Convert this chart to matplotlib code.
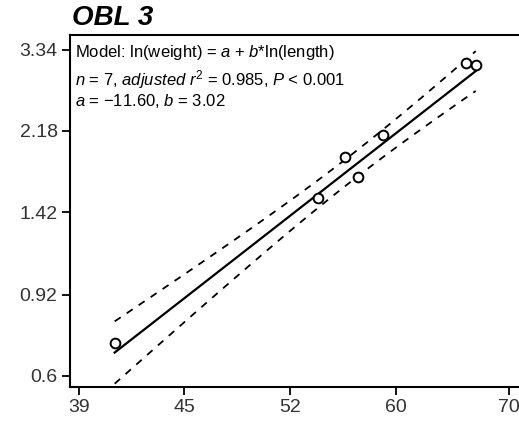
import numpy as np
import matplotlib
matplotlib.use('Agg')
import matplotlib.pyplot as plt
from matplotlib.ticker import NullLocator

plt.rcParams['font.family'] = ['Liberation Sans', 'DejaVu Sans']
plt.rcParams['mathtext.fontset'] = 'custom'
plt.rcParams['mathtext.rm'] = 'Liberation Sans'
plt.rcParams['mathtext.it'] = 'Liberation Sans:italic'
plt.rcParams['mathtext.bf'] = 'Liberation Sans:bold'

# 长度、体重观测值
length = [40.95, 53.95, 56.0, 57.0, 58.95, 66.0, 66.9]
weight = [0.714, 1.531, 1.90, 1.71, 2.13, 3.12, 3.08]

# 回归系数 ln(weight) = a + b*ln(length)
a, b = -11.60, 3.02
t_crit = 2.571  # t(0.975, df=5)

x_ticks = [39, 45, 52, 60, 70]
y_ticks = [0.6, 0.92, 1.42, 2.18, 3.34]
title = 'OBL 3'

lx = np.log(length)
ly = np.log(weight)
n = len(lx)
resid = ly - (a + b * lx)
s = np.sqrt(np.sum(resid ** 2) / (n - 2))
sxx = np.sum((lx - lx.mean()) ** 2)

xs = np.linspace(lx.min(), lx.max(), 100)
fit = a + b * xs
half = t_crit * s * np.sqrt(1 / n + (xs - lx.mean()) ** 2 / sxx)

fig = plt.figure(figsize=(5.19, 4.26), dpi=100)
ax = fig.add_axes([0.135, 0.092, 0.866, 0.826])

ax.plot(np.exp(xs), np.exp(fit), color='black', lw=1.6, zorder=3)
ax.plot(np.exp(xs), np.exp(fit + half), color='black', lw=1.3, dashes=(4, 4))
ax.plot(np.exp(xs), np.exp(fit - half), color='black', lw=1.3, dashes=(4, 4))
ax.plot(length, weight, 'o', mfc='white', mec='black', mew=1.4, ms=7, zorder=4)

ax.set_xscale('log')
ax.set_yscale('log')
ax.set_xlim(38.54, 71.0)
ax.set_ylim(0.566, 3.61)
ax.set_xticks(x_ticks)
ax.set_xticklabels([str(v) for v in x_ticks])
ax.set_yticks(y_ticks)
ax.set_yticklabels([str(v) for v in y_ticks])
ax.xaxis.set_minor_locator(NullLocator())
ax.yaxis.set_minor_locator(NullLocator())
ax.tick_params(direction='out', length=6, width=1.3, labelsize=14,
               labelcolor='#333333', color='black', pad=3)

for side in ['left', 'bottom', 'top']:
    ax.spines[side].set_linewidth(1.5)
ax.spines['right'].set_visible(False)

# 模型说明文字
ax.text(0.012, 0.978, r'Model: ln(weight) = $a$ + $b$*ln(length)',
        transform=ax.transAxes, fontsize=12, va='top', ha='left')
ax.text(0.012, 0.905, r'$n$ = 7, $adjusted$ $r^2$ = 0.985, $P$ < 0.001',
        transform=ax.transAxes, fontsize=12, va='top', ha='left')
ax.text(0.012, 0.838, r'$a$ = $-$11.60, $b$ = 3.02',
        transform=ax.transAxes, fontsize=12, va='top', ha='left')

fig.text(0.138, 0.958, title, fontsize=20, fontweight='bold', style='italic',
         ha='left', va='center')

fig.savefig('out.png', dpi=100)
